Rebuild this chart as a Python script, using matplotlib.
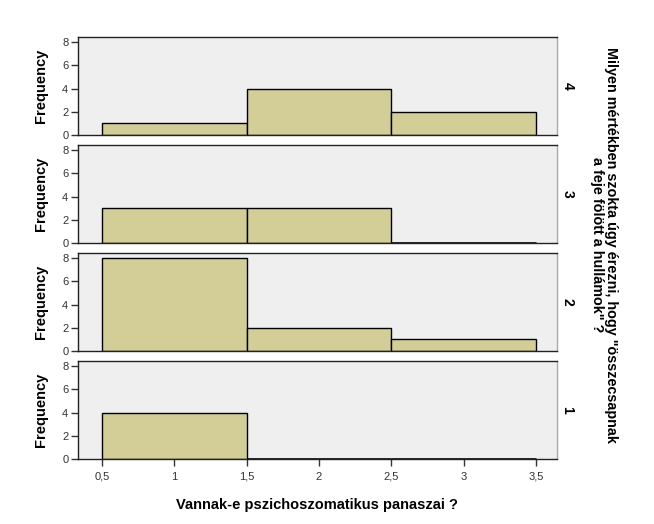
import matplotlib.pyplot as plt
import numpy as np

plt.rcParams['font.family'] = ['Liberation Sans', 'DejaVu Sans']

# bin edges of the histogram and counts per panel (top to bottom)
bin_edges = [0.5, 1.5, 2.5, 3.5]
panel_labels = ['4', '3', '2', '1']
counts = {
    '4': [1, 4, 2],
    '3': [3, 3, 0],
    '2': [8, 2, 1],
    '1': [4, 0, 0],
}
y_ticks = [0, 2, 4, 6, 8]
x_ticks = [0.5, 1, 1.5, 2, 2.5, 3, 3.5]
x_tick_labels = ['0,5', '1', '1,5', '2', '2,5', '3', '3,5']

x_title = 'Vannak-e pszichoszomatikus panaszai ?'
row_title = 'Milyen mértékben szokta úgy érezni, hogy "összecsapnak\na feje fölött a hullámok" ?'

bar_color = '#d3ce98'
panel_bg = '#efefef'

fig = plt.figure(figsize=(6.54, 5.24), dpi=100)
W, H = 654, 524
left, right = 78, 557
tops = [37, 145, 253, 361]
ph = 98

widths = np.diff(bin_edges)
for i, lab in enumerate(panel_labels):
    ax = fig.add_axes([left / W, 1 - (tops[i] + ph) / H, (right - left) / W, ph / H])
    ax.set_facecolor(panel_bg)
    ax.bar(bin_edges[:-1], counts[lab], width=widths, align='edge',
           color=bar_color, edgecolor='black', linewidth=1.0, zorder=2)
    # zero-height bins still drawn as a line
    for x0, w, c in zip(bin_edges[:-1], widths, counts[lab]):
        if c == 0:
            ax.plot([x0, x0 + w], [0, 0], color='black', linewidth=1.8, zorder=3,
                    solid_capstyle='butt')
    ax.set_xlim(0.334, 3.645)
    ax.set_ylim(0, 8.45)
    ax.set_yticks(y_ticks)
    ax.tick_params(axis='y', direction='out', length=5, width=1, labelsize=8, pad=2,
                   colors='#333333')
    for s in ['left', 'bottom', 'top']:
        ax.spines[s].set_color('#222222')
        ax.spines[s].set_linewidth(1.0)
    ax.spines['right'].set_color('#aaaaaa')
    ax.spines['right'].set_linewidth(1.0)
    ax.set_ylabel('Frequency', fontsize=10.5, fontweight='bold', labelpad=10)
    ax.text(1.022, 0.5, lab, transform=ax.transAxes, rotation=270,
            ha='center', va='center', fontsize=10, fontweight='bold')
    if i < 3:
        ax.set_xticks([])
    else:
        ax.set_xticks(x_ticks, labels=x_tick_labels)
        ax.tick_params(axis='x', direction='out', length=5, width=1, labelsize=8, pad=4,
                       colors='#333333')
        ax.set_xlabel(x_title, fontsize=10.5, fontweight='bold', labelpad=12)

fig.text(604 / W, 1 - 245 / H, row_title, rotation=270, ha='center', va='center',
         multialignment='center', fontsize=10.4, fontweight='bold', linespacing=1.0)

fig.savefig('out.png', dpi=100)
